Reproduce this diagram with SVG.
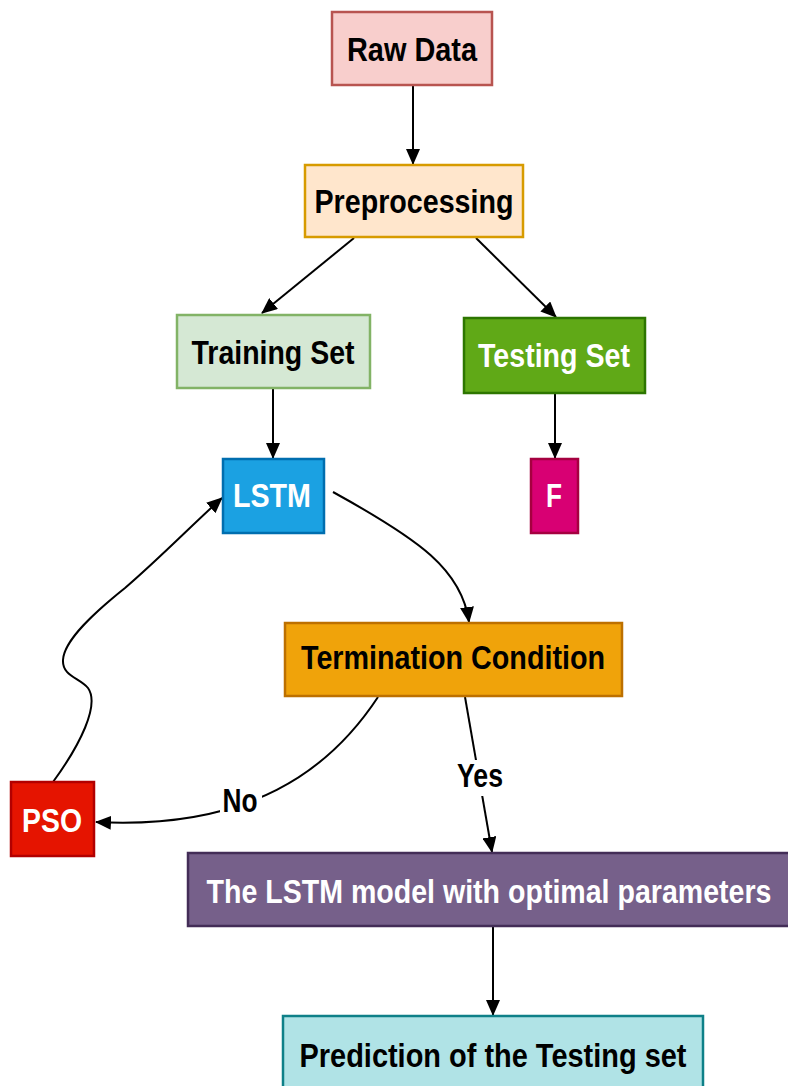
<svg xmlns="http://www.w3.org/2000/svg" width="788" height="1086" viewBox="0 0 788 1086">
  <style>
    .box { stroke-width: 2.5; }
    .lbl { font-family: "Liberation Sans", Arial, sans-serif; font-weight: bold; font-size: 33px; text-anchor: middle; }
    .dark { fill: #000000; }
    .light { fill: #ffffff; }
    .edge { fill: none; stroke: #000000; stroke-width: 2; }
  </style>
  <defs>
    <marker id="arrow" markerWidth="16" markerHeight="14" refX="15" refY="7" orient="auto" markerUnits="userSpaceOnUse">
      <path d="M0,0 L16,7 L0,14 Z" fill="#000000"/>
    </marker>
  </defs>
  <rect width="788" height="1086" fill="#ffffff"/>

  <!-- connectors -->
  <g id="connectors">
    <path class="edge" d="M413,85 L413,164" marker-end="url(#arrow)"/>
    <path class="edge" d="M354,238 L262,313" marker-end="url(#arrow)"/>
    <path class="edge" d="M476,238 L556,317" marker-end="url(#arrow)"/>
    <path class="edge" d="M273,389 L273,458" marker-end="url(#arrow)"/>
    <path class="edge" d="M555,394 L555,458" marker-end="url(#arrow)"/>
    <path class="edge" d="M333,492 C420,540 462,570 469,622" marker-end="url(#arrow)"/>
    <path class="edge" d="M465,697 L492,852" marker-end="url(#arrow)"/>
    <path class="edge" d="M378,697 C330,770 250,830 96,822" marker-end="url(#arrow)"/>
    <path class="edge" d="M53,782 C80,745 100,705 88,688 C80,678 62,676 63,660 C64,640 95,612 125,588 C160,558 195,522 222,498" marker-end="url(#arrow)"/>
    <path class="edge" d="M493,927 L493,1015" marker-end="url(#arrow)"/>
    <!-- edge labels -->
    <rect x="220" y="786" width="42" height="32" fill="#ffffff"/>
    <text class="lbl dark" x="240" y="812" textLength="35" lengthAdjust="spacingAndGlyphs">No</text>
    <rect x="454" y="760" width="52" height="36" fill="#ffffff"/>
    <text class="lbl dark" x="480" y="787" textLength="46" lengthAdjust="spacingAndGlyphs">Yes</text>
  </g>

  <g id="raw-data">
    <rect class="box" x="332" y="12" width="160" height="73" fill="#f8cecc" stroke="#b85450"/>
    <text class="lbl dark" x="412" y="61" textLength="130" lengthAdjust="spacingAndGlyphs">Raw Data</text>
  </g>
  <g id="preprocessing">
    <rect class="box" x="305" y="165" width="218" height="72" fill="#ffe6cc" stroke="#d79b00"/>
    <text class="lbl dark" x="414" y="213" textLength="199" lengthAdjust="spacingAndGlyphs">Preprocessing</text>
  </g>
  <g id="training-set">
    <rect class="box" x="177" y="315" width="193" height="73" fill="#d5e8d4" stroke="#82b366"/>
    <text class="lbl dark" x="273" y="364" textLength="163" lengthAdjust="spacingAndGlyphs">Training Set</text>
  </g>
  <g id="testing-set">
    <rect class="box" x="464" y="318" width="181" height="75" fill="#60a917" stroke="#2d7600"/>
    <text class="lbl light" x="554" y="367" textLength="152" lengthAdjust="spacingAndGlyphs">Testing Set</text>
  </g>
  <g id="lstm">
    <rect class="box" x="223" y="459" width="101" height="74" fill="#1ba1e2" stroke="#006eaf"/>
    <text class="lbl light" x="272" y="507" textLength="78" lengthAdjust="spacingAndGlyphs">LSTM</text>
  </g>
  <g id="f">
    <rect class="box" x="531" y="459" width="47" height="74" fill="#d80073" stroke="#a50040"/>
    <text class="lbl light" x="554" y="507" textLength="16" lengthAdjust="spacingAndGlyphs">F</text>
  </g>
  <g id="termination">
    <rect class="box" x="285" y="623" width="337" height="73" fill="#f0a30a" stroke="#bd7000"/>
    <text class="lbl dark" x="453" y="669" textLength="304" lengthAdjust="spacingAndGlyphs">Termination Condition</text>
  </g>
  <g id="pso">
    <rect class="box" x="11" y="782" width="83" height="74" fill="#e51400" stroke="#b20000"/>
    <text class="lbl light" x="52" y="832" textLength="60" lengthAdjust="spacingAndGlyphs">PSO</text>
  </g>
  <g id="optimal-model">
    <rect class="box" x="188" y="853" width="610" height="73" fill="#76608a" stroke="#432d57"/>
    <text class="lbl light" x="489" y="903" textLength="565" lengthAdjust="spacingAndGlyphs">The LSTM model with optimal parameters</text>
  </g>
  <g id="prediction">
    <rect class="box" x="283" y="1016" width="420" height="80" fill="#b0e3e6" stroke="#0e8088"/>
    <text class="lbl dark" x="493" y="1067" textLength="387" lengthAdjust="spacingAndGlyphs">Prediction of the Testing set</text>
  </g>
</svg>
